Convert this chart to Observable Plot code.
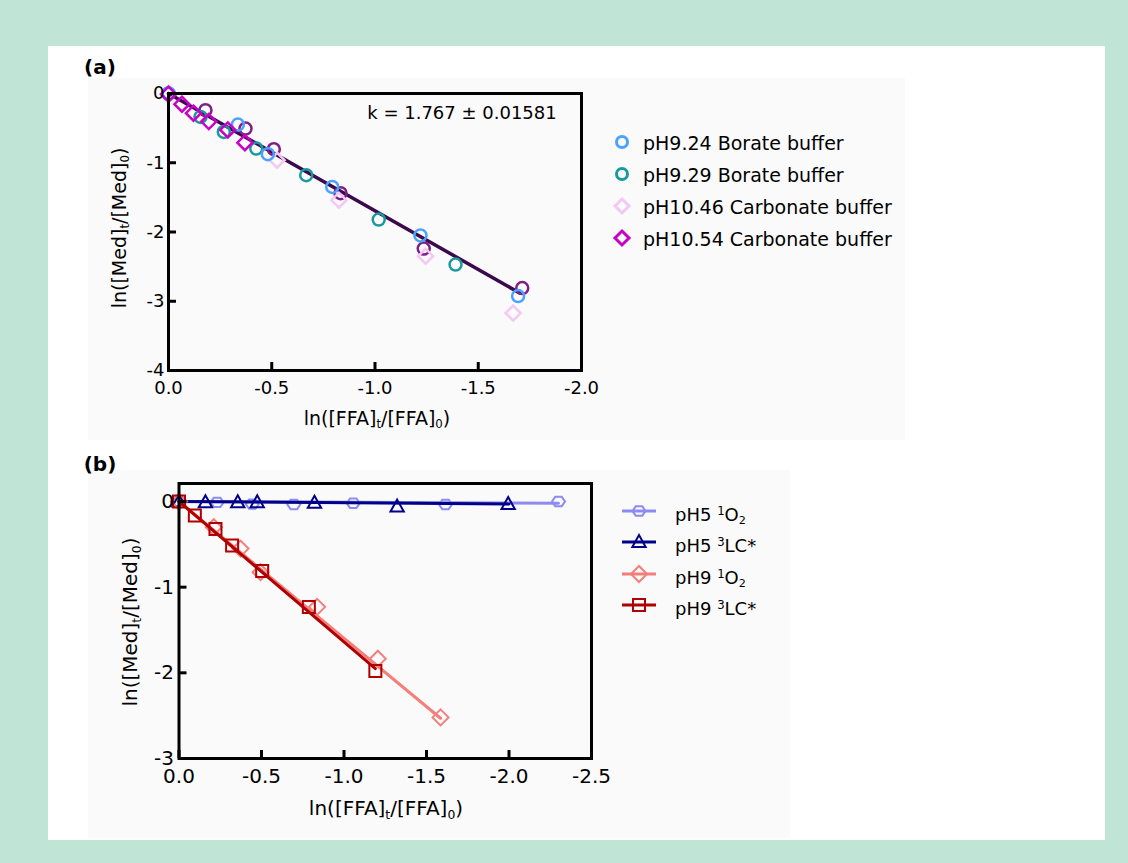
<!DOCTYPE html>
<html>
<head>
<meta charset="utf-8">
<script src="https://cdn.jsdelivr.net/npm/d3@7"></script>
<script src="https://cdn.jsdelivr.net/npm/@observablehq/plot@0.6"></script>
<style>
  body { margin: 0; }
  #root { position: relative; width: 1128px; height: 863px; background: #c0e4d5; overflow: hidden; font-family: "DejaVu Sans", sans-serif; color: #000; }
  .abs { position: absolute; }
  .t { position: absolute; line-height: 1; white-space: nowrap; }
  .c { transform: translate(-50%, -50%); }
  .l { transform: translate(0, -50%); }
  .rot { transform: translate(-50%, -50%) rotate(-90deg); }
  sub { font-size: 0.62em; vertical-align: -0.3em; line-height: 0; }
  sup { font-size: 0.65em; vertical-align: 0.55em; line-height: 0; }
  svg.leg { position: absolute; overflow: visible; }
</style>
</head>
<body>
<div id="root">
  <div class="abs" style="left:48px;top:46px;width:1057px;height:794px;background:#fff"></div>
  <div class="abs" style="left:88px;top:78px;width:817px;height:362px;background:#fafafa"></div>
  <div class="abs" style="left:88px;top:470px;width:702px;height:368px;background:#fafafa"></div>
  <div id="plotA" class="abs" style="left:90px;top:75px"></div>
  <div id="plotB" class="abs" style="left:90px;top:465px"></div>
  <div class="t c" style="left:100px;top:67px;font-size:20px;font-weight:bold">(a)</div>
  <div class="t c" style="left:100px;top:464px;font-size:20px;font-weight:bold">(b)</div>
  <div class="t c" style="left:462px;top:113px;font-size:18px">k = 1.767 ± 0.01581</div>
  <div class="t c" style="left:377px;top:418px;font-size:19px">ln([FFA]<sub>t</sub>/[FFA]<sub>0</sub>)</div>
  <div class="t rot" style="left:119px;top:228px;font-size:19px">ln([Med]<sub>t</sub>/[Med]<sub>0</sub>)</div>
  <div class="t c" style="left:386px;top:808px;font-size:20px">ln([FFA]<sub>t</sub>/[FFA]<sub>0</sub>)</div>
  <div class="t rot" style="left:130px;top:622px;font-size:20px">ln([Med]<sub>t</sub>/[Med]<sub>0</sub>)</div>
  <div id="legA"></div>
  <div id="legB"></div>
</div>
<script>
// ---------- Panel (a) data ----------
const seriesA = ["pH9.24 Borate buffer", "pH9.29 Borate buffer", "pH10.46 Carbonate buffer", "pH10.54 Carbonate buffer"];
const colorsA = ["#4aa2ff", "#1a9a9c", "#f3c8f3", "#c800c8"];
const extraColorA = "#7f1f84";
const fitColorA = "#3b0a4d";

const a924x = [0, -0.336, -0.481, -0.793, -1.220, -1.693];
const a924y = [0, -0.448, -0.877, -1.350, -2.050, -2.925];
const a929x = [0, -0.155, -0.268, -0.425, -0.667, -1.018, -1.390];
const a929y = [0, -0.338, -0.555, -0.795, -1.180, -1.820, -2.470];
const a1046x = [0, -0.526, -0.825, -1.245, -1.669];
const a1046y = [0, -0.964, -1.540, -2.350, -3.170];
const a1054x = [0, -0.065, -0.121, -0.195, -0.287, -0.370];
const a1054y = [-0.01, -0.155, -0.285, -0.405, -0.526, -0.711];
const aExtraX = [-0.179, -0.373, -0.510, -0.833, -1.236, -1.713];
const aExtraY = [-0.241, -0.506, -0.805, -1.440, -2.240, -2.810];
const fitAx = [0, -1.70];
const fitAy = [0, -2.88];

const xTicksA = [0, -0.5, -1.0, -1.5, -2.0];
const yTicksA = [0, -1, -2, -3, -4];

// ---------- Panel (b) data ----------
const seriesB = ["pH5 ¹O₂", "pH5 ³LC*", "pH9 ¹O₂", "pH9 ³LC*"];
const colorsB = ["#8b8bf2", "#00008a", "#f47f7a", "#b00000"];

const b5oX = [0, -0.231, -0.444, -0.696, -1.056, -1.615, -2.300];
const b5oY = [0, -0.010, -0.030, -0.035, -0.020, -0.035, 0.000];
const b5lX = [0, -0.160, -0.356, -0.474, -0.821, -1.322, -1.995];
const b5lY = [0, -0.010, -0.010, -0.010, -0.015, -0.060, -0.030];
const b9oX = [0, -0.211, -0.373, -0.494, -0.837, -1.205, -1.585];
const b9oY = [0, -0.300, -0.550, -0.825, -1.230, -1.835, -2.520];
const b9lX = [0, -0.096, -0.221, -0.322, -0.504, -0.787, -1.190];
const b9lY = [0, -0.163, -0.320, -0.513, -0.810, -1.233, -1.980];
const fit5oX = [0, -2.30], fit5oY = [0, -0.02];
const fit5lX = [0, -2.00], fit5lY = [0, -0.03];
const fit9oX = [0, -1.585], fit9oY = [0, -2.53];
const fit9lX = [0, -1.19], fit9lY = [0, -1.95];

const xTicksB = [0, -0.5, -1.0, -1.5, -2.0, -2.5];
const yTicksB = [0, -1, -2, -3];

// ---------- helpers ----------
const pts = (xs, ys) => xs.map((x, i) => ({x, y: ys[i]}));
const rad = (size) => Math.sqrt(size / Math.PI);
const diamondSym = {draw(c, s) { const r = rad(s); c.moveTo(0, -r); c.lineTo(r, 0); c.lineTo(0, r); c.lineTo(-r, 0); c.closePath(); }};
const squareSym = {draw(c, s) { const r = rad(s); c.moveTo(-r, -r); c.lineTo(r, -r); c.lineTo(r, r); c.lineTo(-r, r); c.closePath(); }};
const triSym = {draw(c, s) { const r = rad(s); c.moveTo(0, -r); c.lineTo(r * 0.95, r * 0.7); c.lineTo(-r * 0.95, r * 0.7); c.closePath(); }};
const hexSym = {draw(c, s) { const r = rad(s); const h = r * 0.72; c.moveTo(-r, 0); c.lineTo(-r * 0.5, -h); c.lineTo(r * 0.5, -h); c.lineTo(r, 0); c.lineTo(r * 0.5, h); c.lineTo(-r * 0.5, h); c.closePath(); }};
const fmt1 = d => d.toFixed(1);
const fmt0 = d => String(d);

// inner sizes are needed to turn full-frame tick lines into short inward ticks
function axes(xTicks, yTicks, xPad, yPad, innerW, innerH) {
  const TS = 8;
  return [
    Plot.tickX(xTicks, {x: d => d, insetTop: innerH - TS, stroke: "#000", strokeWidth: 3}),
    Plot.tickY(yTicks, {y: d => d, insetRight: innerW - TS, stroke: "#000", strokeWidth: 3}),
    Plot.frame({stroke: "#000", strokeWidth: 3}),
    Plot.axisX({ticks: xTicks, tickSize: 0, tickPadding: xPad, tickFormat: fmt1, label: null}),
    Plot.axisY({ticks: yTicks, tickSize: 0, tickPadding: yPad, tickFormat: fmt0, label: null})
  ];
}

// ---------- Plot (a) ----------
const A = {width: 500, height: 340, ml: 78, mr: 9, mt: 18, mb: 45};
const plotA = Plot.plot({
  width: A.width, height: A.height,
  marginLeft: A.ml, marginRight: A.mr, marginTop: A.mt, marginBottom: A.mb,
  x: {domain: [0, -2]},
  y: {domain: [-4, 0]},
  style: {fontFamily: "DejaVu Sans", fontSize: "18px", color: "#000", background: "transparent", overflow: "visible"},
  marks: [
    Plot.line(pts(fitAx, fitAy), {x: "x", y: "y", stroke: fitColorA, strokeWidth: 3.5}),
    Plot.dot(pts(aExtraX, aExtraY), {x: "x", y: "y", r: 6, stroke: extraColorA, strokeWidth: 2.5, fill: "none"}),
    Plot.dot(pts(a1046x, a1046y), {x: "x", y: "y", r: 7.5, symbol: diamondSym, stroke: colorsA[2], strokeWidth: 2.5, fill: "none"}),
    Plot.dot(pts(a929x, a929y), {x: "x", y: "y", r: 6, stroke: colorsA[1], strokeWidth: 2.5, fill: "none"}),
    Plot.dot(pts(a924x, a924y), {x: "x", y: "y", r: 6, stroke: colorsA[0], strokeWidth: 2.5, fill: "none"}),
    Plot.dot(pts(a1054x, a1054y), {x: "x", y: "y", r: 7.5, symbol: diamondSym, stroke: colorsA[3], strokeWidth: 2.5, fill: "none"}),
    ...axes(xTicksA, yTicksA, 11, 4, A.width - A.ml - A.mr, A.height - A.mt - A.mb)
  ]
});
document.getElementById("plotA").appendChild(plotA);

// ---------- Plot (b) ----------
const B = {width: 520, height: 330, ml: 88.5, mr: 19, mt: 18, mb: 37};
const symsB = [hexSym, triSym, diamondSym, squareSym];
const rB = [6.5, 7, 8, 6];
const dataB = [[b5oX, b5oY, fit5oX, fit5oY], [b5lX, b5lY, fit5lX, fit5lY], [b9oX, b9oY, fit9oX, fit9oY], [b9lX, b9lY, fit9lX, fit9lY]];
const marksB = [];
dataB.forEach(([xs, ys, fx, fy], i) => {
  marksB.push(Plot.dot(pts(xs, ys), {x: "x", y: "y", r: rB[i], symbol: symsB[i], stroke: colorsB[i], strokeWidth: 2, fill: "none"}));
  marksB.push(Plot.line(pts(fx, fy), {x: "x", y: "y", stroke: colorsB[i], strokeWidth: 3}));
});
const plotB = Plot.plot({
  width: B.width, height: B.height,
  marginLeft: B.ml, marginRight: B.mr, marginTop: B.mt, marginBottom: B.mb,
  x: {domain: [0, -2.5]},
  y: {domain: [-3, 0.21]},
  style: {fontFamily: "DejaVu Sans", fontSize: "20px", color: "#000", background: "transparent", overflow: "visible"},
  marks: [...marksB, ...axes(xTicksB, yTicksB, 10, 5, B.width - B.ml - B.mr, B.height - B.mt - B.mb)]
});
document.getElementById("plotB").appendChild(plotB);

// ---------- Legends ----------
const NS = "http://www.w3.org/2000/svg";
function symPath(sym, r) {
  const p = d3.path(); sym.draw(p, Math.PI * r * r); return p.toString();
}
const circleSym = {draw(c, s) { const r = rad(s); c.moveTo(r, 0); c.arc(0, 0, r, 0, 2 * Math.PI); }};
const legA = document.getElementById("legA");
const rowsA = [142, 174, 206, 238];
const symA = [circleSym, circleSym, diamondSym, diamondSym];
const rA = [5.5, 5.5, 7, 7];
seriesA.forEach((name, i) => {
  const svg = document.createElementNS(NS, "svg");
  svg.setAttribute("class", "leg"); svg.setAttribute("width", 20); svg.setAttribute("height", 20);
  svg.style.left = (622 - 10) + "px"; svg.style.top = (rowsA[i] - 10) + "px";
  const path = document.createElementNS(NS, "path");
  path.setAttribute("d", symPath(symA[i], rA[i])); path.setAttribute("transform", "translate(10,10)");
  path.setAttribute("fill", "none"); path.setAttribute("stroke", colorsA[i]); path.setAttribute("stroke-width", 3);
  svg.appendChild(path); legA.appendChild(svg);
  const t = document.createElement("div");
  t.className = "t l"; t.style.left = "643px"; t.style.top = (rowsA[i] + 1) + "px"; t.style.fontSize = "19px";
  t.textContent = name; legA.appendChild(t);
});
const legB = document.getElementById("legB");
const rowsB = [511, 542, 574, 605];
const namesBHtml = ["pH5 <sup>1</sup>O<sub>2</sub>", "pH5 <sup>3</sup>LC*", "pH9 <sup>1</sup>O<sub>2</sub>", "pH9 <sup>3</sup>LC*"];
seriesB.forEach((name, i) => {
  const svg = document.createElementNS(NS, "svg");
  svg.setAttribute("class", "leg"); svg.setAttribute("width", 40); svg.setAttribute("height", 20);
  svg.style.left = "620px"; svg.style.top = (rowsB[i] - 10) + "px";
  const line = document.createElementNS(NS, "line");
  line.setAttribute("x1", 2); line.setAttribute("x2", 36); line.setAttribute("y1", 10); line.setAttribute("y2", 10);
  line.setAttribute("stroke", colorsB[i]); line.setAttribute("stroke-width", 3);
  svg.appendChild(line);
  const path = document.createElementNS(NS, "path");
  path.setAttribute("d", symPath(symsB[i], rB[i])); path.setAttribute("transform", "translate(19,10)");
  path.setAttribute("fill", "none"); path.setAttribute("stroke", colorsB[i]); path.setAttribute("stroke-width", 2);
  svg.appendChild(path); legB.appendChild(svg);
  const t = document.createElement("div");
  t.className = "t l"; t.style.left = "675px"; t.style.top = (rowsB[i] + 4) + "px"; t.style.fontSize = "18px";
  t.innerHTML = namesBHtml[i]; t.setAttribute("aria-label", name); legB.appendChild(t);
});
</script>
</body>
</html>
